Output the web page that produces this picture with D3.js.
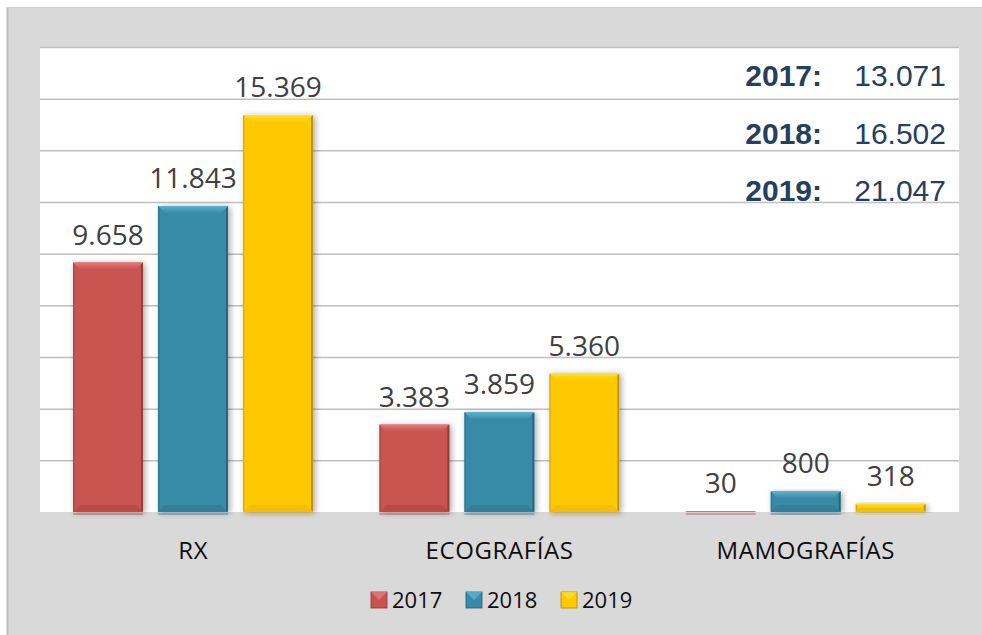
<!DOCTYPE html>
<meta charset="utf-8">
<head>
  <title>Estudios por año</title>
</head>
<style>
  body { margin: 0; background: #fff; }
  svg { display: block; }
  .val { font-family: "Open Sans", sans-serif; font-size: 28px; fill: #404040; }
  .cat { font-family: "Open Sans", sans-serif; font-size: 24px; fill: #0d0d0d; letter-spacing: 0.6px; }
  .leg { font-family: "Open Sans", sans-serif; font-size: 22px; fill: #0d0d0d; }
  .tot { font-family: "Liberation Sans", Arial, sans-serif; font-size: 30px; fill: #253f5e; }
</style>
<body>
<svg id="chart"></svg>
<script src="https://cdnjs.cloudflare.com/ajax/libs/d3/7.8.5/d3.min.js"></script>
<script>
// data
var categories = ["RX", "ECOGRAFÍAS", "MAMOGRAFÍAS"];
var years = ["2017", "2018", "2019"];
var v2017 = [9658, 3383, 30];
var v2018 = [11843, 3859, 800];
var v2019 = [15369, 5360, 318];
var totals = [13071, 16502, 21047];
var yTicks = [0, 2000, 4000, 6000, 8000, 10000, 12000, 14000, 16000, 18000];

var series = [v2017, v2018, v2019];
var colors = [
  { main: "#c85450", light: "#e27c78", dark: "#bb4a47", edge: "#8c3532" },
  { main: "#388ba6", light: "#5cb3cf", dark: "#31809a", edge: "#235c70" },
  { main: "#ffc800", light: "#ffe030", dark: "#f5bf00", edge: "#b08a00" }
];

var fmt = function(n) {
  return d3.format(",")(n).replace(/,/g, ".");
};

var W = 982, H = 635;
var svg = d3.select("#chart").attr("width", W).attr("height", H);

var plot = { left: 40, right: 959, top: 47, bottom: 512 };

// background
svg.append("rect").attr("width", W).attr("height", H).attr("fill", "#fff");
svg.append("rect").attr("x", 8).attr("y", 7).attr("width", W - 8).attr("height", H - 7)
  .attr("fill", "#d9d9d9");
svg.append("line").attr("x1", 7.5).attr("x2", 7.5).attr("y1", 7).attr("y2", H)
  .attr("stroke", "#bcbcbc").attr("stroke-width", 2);
svg.append("line").attr("x1", 7).attr("x2", W).attr("y1", 7.5).attr("y2", 7.5)
  .attr("stroke", "#cfcfcf").attr("stroke-width", 1);

svg.append("rect")
  .attr("x", plot.left).attr("y", plot.top)
  .attr("width", plot.right - plot.left).attr("height", plot.bottom - plot.top)
  .attr("fill", "#fff");

var defs = svg.append("defs");
var f = defs.append("filter").attr("id", "shadow")
  .attr("x", "-30%").attr("y", "-10%").attr("width", "160%").attr("height", "120%");
f.append("feDropShadow").attr("dx", 2).attr("dy", 1).attr("stdDeviation", 3)
  .attr("flood-color", "#000").attr("flood-opacity", 0.35);

colors.forEach(function(c, j) {
  var lg = defs.append("linearGradient").attr("id", "top" + j)
    .attr("x1", 0).attr("y1", 0).attr("x2", 0).attr("y2", 1);
  lg.append("stop").attr("offset", "0%").attr("stop-color", c.light);
  lg.append("stop").attr("offset", "100%").attr("stop-color", c.main);
});

var y = d3.scaleLinear().domain([0, 18000]).range([plot.bottom, plot.top]);
var x0 = d3.scaleBand().domain(categories).range([plot.left, plot.right]);
var x1 = d3.scaleBand().domain(years).range([33, 273]).paddingInner(0.176);

// gridlines
svg.append("g").selectAll("line").data(yTicks.slice(1)).enter().append("line")
  .attr("x1", plot.left).attr("x2", plot.right)
  .attr("y1", function(d) { return y(d) + 0.5; })
  .attr("y2", function(d) { return y(d) + 0.5; })
  .attr("stroke", "#bfbfbf").attr("stroke-width", 1.5);

// bars
var bars = [];
categories.forEach(function(c, i) {
  years.forEach(function(yr, j) {
    bars.push({ cat: c, year: yr, value: series[j][i], col: colors[j], idx: j });
  });
});

var g = svg.append("g");
bars.forEach(function(d) {
  var bx = x0(d.cat) + x1(d.year);
  var bw = x1.bandwidth();
  var by = y(d.value);
  var bh = plot.bottom - by;
  var bar = g.append("g");
  bar.append("rect").attr("x", bx).attr("y", by).attr("width", bw).attr("height", bh)
    .attr("fill", d.col.main).attr("filter", "url(#shadow)");
  var b = Math.min(7, bh / 2, bw / 2);
  if (bh > 2) {
    // top bevel
    bar.append("polygon")
      .attr("points", [[bx, by], [bx + bw, by], [bx + bw - b, by + b], [bx + b, by + b]].join(" "))
      .attr("fill", "url(#top" + d.idx + ")");
    // bottom bevel
    bar.append("polygon")
      .attr("points", [[bx, by + bh], [bx + bw, by + bh], [bx + bw - b, by + bh - b], [bx + b, by + bh - b]].join(" "))
      .attr("fill", d.col.dark);
    // right edge
    bar.append("polygon")
      .attr("points", [[bx + bw, by], [bx + bw, by + bh], [bx + bw - 2, by + bh - 2], [bx + bw - 2, by + 2]].join(" "))
      .attr("fill", d.col.edge).attr("opacity", 0.8);
    // left edge
    bar.append("polygon")
      .attr("points", [[bx, by], [bx, by + bh], [bx + 1.5, by + bh - 1.5], [bx + 1.5, by + 1.5]].join(" "))
      .attr("fill", d.col.edge).attr("opacity", 0.4);
  }
  // reflection under baseline
  bar.append("rect").attr("x", bx).attr("y", plot.bottom + 1).attr("width", bw).attr("height", 2)
    .attr("fill", d.col.main).attr("opacity", 0.45);

  g.append("text").attr("class", "val")
    .attr("x", bx + bw / 2).attr("y", by - 18)
    .attr("text-anchor", "middle")
    .text(fmt(d.value));
});

// category labels
svg.append("g").selectAll("text").data(categories).enter().append("text")
  .attr("class", "cat")
  .attr("x", function(d) { return x0(d) + x0.bandwidth() / 2; })
  .attr("y", 559)
  .attr("text-anchor", "middle")
  .text(function(d) { return d; });

// legend
var leg = svg.append("g").attr("transform", "translate(371,592)");
years.forEach(function(yr, j) {
  var it = leg.append("g").attr("transform", "translate(" + (j * 95) + ",0)");
  var c = colors[j];
  it.append("rect").attr("width", 16).attr("height", 16).attr("fill", c.main)
    .attr("stroke", c.edge).attr("stroke-width", 0.8);
  it.append("polygon").attr("points", "0,0 16,0 8,8").attr("fill", c.light).attr("opacity", 0.8);
  it.append("text").attr("class", "leg").attr("x", 21).attr("y", 15.5).text(yr);
});

// totals box
var tot = svg.append("g");
totals.forEach(function(t, i) {
  var ty = 86 + i * 57.5;
  tot.append("text").attr("class", "tot").attr("x", 822).attr("y", ty)
    .attr("text-anchor", "end").attr("font-weight", "bold").text(years[i] + ":");
  tot.append("text").attr("class", "tot").attr("x", 946).attr("y", ty)
    .attr("text-anchor", "end").text(fmt(t));
});
</script>
</body>
</html>
